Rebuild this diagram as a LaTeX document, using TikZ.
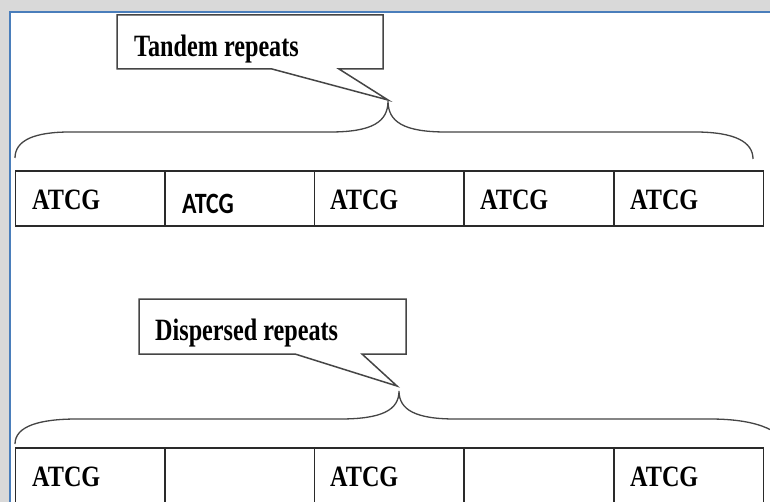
\documentclass[tikz,border=0pt]{standalone}
\usepackage{fontspec}
\newfontfamily\seqfont[FakeStretch=0.82]{Liberation Serif}
\newfontfamily\calloutfont[FakeStretch=0.78]{Liberation Serif}
\newfontfamily\seqsans[FakeStretch=0.81]{Carlito}
\definecolor{pagegrey}{HTML}{D9D9D9}
\definecolor{frameblue}{HTML}{4A7EBB}
\definecolor{boxline}{HTML}{454545}
\definecolor{cellline}{HTML}{2A2A2A}
\tikzset{
  cell/.style={draw=cellline, line width=1.5pt, minimum width=149.5pt,
    minimum height=55pt, inner sep=0pt, outer sep=0pt},
  seq/.style={inner sep=0pt, anchor=base west,
    font={\seqfont\bfseries\fontsize{29.5pt}{32pt}\selectfont}},
  seqalt/.style={inner sep=0pt, anchor=base west,
    font={\seqsans\bfseries\fontsize{29.5pt}{32pt}\selectfont}},
  callouttext/.style={inner sep=0pt, anchor=base west,
    font={\calloutfont\bfseries\fontsize{31pt}{34pt}\selectfont}},
  calloutbox/.style={draw=boxline, line width=1.5pt, fill=white, line join=miter},
  bracestyle/.style={draw=boxline, line width=1.3pt},
}
\begin{document}
\begin{tikzpicture}[x=1pt, y=-1pt]
\useasboundingbox (0,0) rectangle (770,502);
\begin{scope}
\clip (0,0) rectangle (770,502);
% page background and slide frame
\fill[pagegrey] (0,0) rectangle (770,502);
\fill[white] (10,12) rectangle (780,520);
\draw[frameblue, line width=2pt] (10,520) -- (10,12) -- (780,12);

% ---------------- tandem repeats ----------------
\node[cell] (t1) at (90,198.5) {};
\node[cell] (t2) at (239.5,198.5) {};
\node[cell] (t3) at (389,198.5) {};
\node[cell] (t4) at (538.5,198.5) {};
\node[cell] (t5) at (688.5,198.5) {};
\node[seq]    (t1l) at (32,210) {ATCG};
\node[seqalt] (t2l) at (182,213.5) {ATCG};
\node[seq]    (t3l) at (330,210) {ATCG};
\node[seq]    (t4l) at (480,210) {ATCG};
\node[seq]    (t5l) at (630,210) {ATCG};

\coordinate (tTip) at (388,101);
\draw[bracestyle] (15,158) .. controls (15,140) and (35,132) .. (70,132)
  -- (330,132) .. controls (372,132) and (388,122) .. (tTip)
  .. controls (388,122) and (404,132) .. (446,132)
  -- (695,132) .. controls (735,132) and (753,142) .. (753,159);

\coordinate (tPtr) at (388,100);
\draw[calloutbox] (117,15) -- (383,15) -- (383,69) -- (339,69) -- (tPtr)
  -- (272,69) -- (117,69) -- cycle;
\node[callouttext] (tandem) at (134,57) {Tandem repeats};

% ---------------- dispersed repeats ----------------
\node[cell] (d1) at (90,475.5) {};
\node[cell] (d2) at (239.5,475.5) {};
\node[cell] (d3) at (389,475.5) {};
\node[cell] (d4) at (538.5,475.5) {};
\node[cell] (d5) at (688.5,475.5) {};
\node[seq] (d1l) at (32,486) {ATCG};
\node[seq] (d3l) at (330,486) {ATCG};
\node[seq] (d5l) at (630,486) {ATCG};

\coordinate (dTip) at (399,391);
\draw[bracestyle] (15,444) .. controls (15,426) and (40,419) .. (77,419)
  -- (340,419) .. controls (382,419) and (399,410) .. (dTip)
  .. controls (399,410) and (416,419) .. (455,419)
  -- (710,419) .. controls (760,419) and (785,432) .. (790,452);

\coordinate (dPtr) at (397,386);
\draw[calloutbox] (139,299) -- (406,299) -- (406,354) -- (362,354) -- (dPtr)
  -- (295,354) -- (139,354) -- cycle;
\node[callouttext] (dispersed) at (155,340) {Dispersed repeats};
\end{scope}
\end{tikzpicture}
\end{document}
